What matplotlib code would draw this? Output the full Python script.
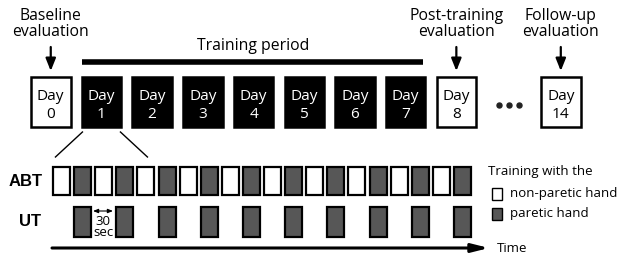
import matplotlib
matplotlib.use("Agg")
import matplotlib.pyplot as plt
from matplotlib.patches import Rectangle

plt.rcParams['font.family'] = ['Open Sans', 'DejaVu Sans']

# ---- data ----
day_labels = ["0", "1", "2", "3", "4", "5", "6", "7", "8", "14"]
day_slots = [0, 1, 2, 3, 4, 5, 6, 7, 8, 10.06]
day_is_training = [False, True, True, True, True, True, True, True, False, False]
eval_texts = ["Baseline\nevaluation", "Post-training\nevaluation", "Follow-up\nevaluation"]
eval_days = ["0", "8", "14"]
abt_hands = ["non-paretic", "paretic"] * 10          # 20 blocks, alternating
ut_hands = [None, "paretic"] * 10                    # rest / paretic
hand_colors = {"non-paretic": "white", "paretic": "#575757"}
legend_title = "Training with the"
legend_items = ["non-paretic hand", "paretic hand"]

W, H = 618, 259
fig = plt.figure(figsize=(W / 100, H / 100), dpi=100)
ax = fig.add_axes([0, 0, 1, 1])
ax.set_xlim(0, W)
ax.set_ylim(H, 0)
ax.axis('off')

fs = 11.3

# ---- day boxes ----
x0, pitch, bw = 31, 50.7, 39.5
by0, by1 = 77, 127
centers = {}
for lab, slot, tr in zip(day_labels, day_slots, day_is_training):
    x = x0 + pitch * slot
    ax.add_patch(Rectangle((x, by0), bw, by1 - by0, facecolor='black' if tr else 'white',
                           edgecolor='black', lw=1.8))
    c = 'white' if tr else 'black'
    cx = x + bw / 2
    centers[lab] = cx
    ax.text(cx, 100, "Day", ha='center', va='baseline', fontsize=11.1, color=c)
    ax.text(cx, 118, lab, ha='center', va='baseline', fontsize=11.1, color=c)

# dots between day 8 and day 14
mid = (centers["8"] + centers["14"]) / 2
ax.plot([mid - 10, mid, mid + 10], [105, 105, 105], 'o', ms=3.6, color='#222222')

# training period bar
ax.plot([centers["1"] - bw / 2, centers["7"] + bw / 2 - 2], [62, 62], color='black', lw=4,
        solid_capstyle='butt')
ax.text((centers["1"] + centers["7"]) / 2, 50, "Training period", ha='center', va='baseline', fontsize=fs)

# evaluation labels + arrows
for t, d in zip(eval_texts, eval_days):
    cx = centers[d]
    ax.text(cx, 24, t, ha='center', va='center', fontsize=fs, linespacing=1.05)
    ax.annotate("", xy=(cx, 71), xytext=(cx, 47),
                arrowprops=dict(arrowstyle='-|>,head_width=0.3,head_length=0.75',
                                color='black', lw=1.6, shrinkA=0, shrinkB=0))

# zoom lines from day 1
d1 = centers["1"]
ax.plot([d1 - 19, d1 - 46], [132, 157], color='black', lw=1)
ax.plot([d1 + 19, d1 + 46], [132, 157], color='black', lw=1)

# ---- ABT / UT rows ----
sx0, spitch, sw = 53, 21.1, 17
ay0, ay1 = 167, 195
uy0, uy1 = 207, 237
for i, h in enumerate(abt_hands):
    ax.add_patch(Rectangle((sx0 + i * spitch, ay0), sw, ay1 - ay0, facecolor=hand_colors[h],
                           edgecolor='black', lw=1.6))
for i, h in enumerate(ut_hands):
    if h is None:
        continue
    ax.add_patch(Rectangle((sx0 + i * spitch, uy0), sw, uy1 - uy0, facecolor=hand_colors[h],
                           edgecolor='black', lw=1.6))

ax.text(25.5, 182, "ABT", ha='center', va='center', fontsize=12, fontweight='bold',
        family=['Liberation Sans', 'DejaVu Sans'])
ax.text(30.5, 222, "UT", ha='center', va='center', fontsize=12, fontweight='bold',
        family=['Liberation Sans', 'DejaVu Sans'])

# 30 sec annotation
ax.annotate("", xy=(93, 211), xytext=(113, 211),
            arrowprops=dict(arrowstyle='<|-|>,head_width=0.12,head_length=0.3', color='black',
                            lw=0.8, shrinkA=0, shrinkB=0))
ax.text(103, 227, "30\nsec", ha='center', va='center', fontsize=9.5, linespacing=0.75)

# time arrow
ax.annotate("", xy=(489, 248), xytext=(52, 248),
            arrowprops=dict(arrowstyle='-|>,head_width=0.25,head_length=1.0', color='black',
                            lw=2.2, shrinkA=0, shrinkB=0))
ax.text(497, 249, "Time", ha='left', va='center', fontsize=9.5)

# legend
ax.text(488, 172, legend_title, ha='left', va='center', fontsize=9.5)
ax.add_patch(Rectangle((492, 188), 10, 12, facecolor='white', edgecolor='black', lw=1.0))
ax.add_patch(Rectangle((492, 208), 10, 12, facecolor=hand_colors["paretic"], edgecolor='black', lw=1.0))
ax.text(510, 194, legend_items[0], ha='left', va='center', fontsize=9.5)
ax.text(510, 214, legend_items[1], ha='left', va='center', fontsize=9.5)

fig.savefig("out.png", dpi=100)
